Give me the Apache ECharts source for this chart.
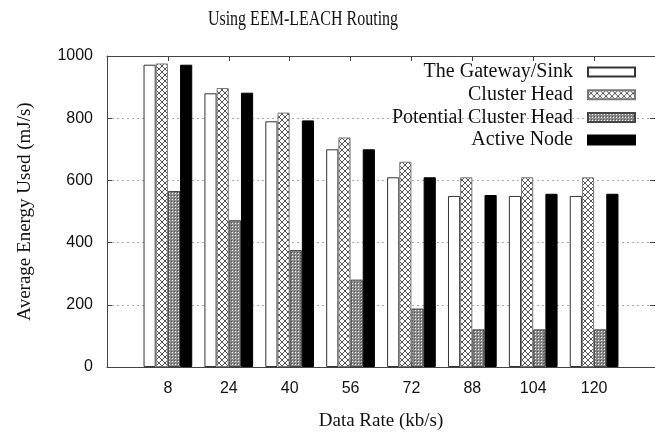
<!DOCTYPE html>
<html>
<head>
<meta charset="utf-8">
<script src="https://cdn.jsdelivr.net/npm/echarts@6/dist/echarts.min.js"></script>
<style>html,body{margin:0;padding:0;background:#fff}#c{width:655px;height:436px}</style>
</head>
<body>
<div id="c"></div>
<script>
const titleText = 'Using EEM-LEACH Routing';
const xName = 'Data Rate (kb/s)';
const yName = 'Average Energy Used (mJ/s)';
const rates = [8, 24, 40, 56, 72, 88, 104, 120];
const seriesNames = ['The Gateway/Sink', 'Cluster Head', 'Potential Cluster Head', 'Active Node'];
const gateway = [972, 880, 790, 700, 610, 550, 550, 550];
const clusterHead = [976, 897, 818, 738, 660, 610, 610, 610];
const potential = [566, 472, 376, 281, 188, 121, 121, 121];
const active = [972, 882, 793, 700, 610, 553, 557, 557];

function makeTile(size, draw) {
  const c = document.createElement('canvas');
  c.width = size; c.height = size;
  const g = c.getContext('2d');
  draw(g, size);
  return c;
}
const crossTile = makeTile(6, (g, s) => {
  g.fillStyle = '#ffffff'; g.fillRect(0, 0, s, s);
  g.fillStyle = '#555555';
  for (let i = 0; i < s; i++) { g.fillRect(i, i, 1, 1); g.fillRect(i, s - 1 - i, 1, 1); }
});
const denseTile = makeTile(3, (g, s) => {
  g.fillStyle = '#8c8c8c'; g.fillRect(0, 0, s, s);
  g.fillStyle = '#ffffff'; g.fillRect(1, 1, 1, 1);
  g.fillStyle = '#555555'; g.fillRect(0, 0, 1, 1);
});

const fills = [
  '#ffffff',
  { image: crossTile, repeat: 'repeat' },
  { image: denseTile, repeat: 'repeat' },
  '#000000'
];
const values = [gateway, clusterHead, potential, active];
const borders = ['#333333', '#777777', '#444444', '#000000'];

const serif = 'Liberation Serif';
const sans = 'Liberation Sans';

const chart = echarts.init(document.getElementById('c'), null, { renderer: 'canvas' });
chart.setOption({
  animation: false,
  backgroundColor: '#ffffff',
  graphic: [{
    type: 'text', x: 303, y: 20, scaleX: 0.8, scaleY: 1,
    style: {
      text: titleText, fontFamily: serif, fontSize: 20, fill: '#111',
      align: 'center', verticalAlign: 'middle'
    }
  }],
  legend: {
    orient: 'vertical', align: 'right', right: 14, top: 57,
    icon: 'rect', itemWidth: 47, itemHeight: 9, itemGap: 2.7,
    textStyle: { fontFamily: serif, fontSize: 20, color: '#111', lineHeight: 20, padding: [0, 10, 0, 0] },
    data: seriesNames
  },
  grid: { left: 107, top: 56, width: 552, height: 314, containLabel: false },
  xAxis: [{
    type: 'value', min: -8, max: 136, position: 'bottom',
    name: xName, nameLocation: 'middle', nameGap: 45,
    nameTextStyle: { fontFamily: serif, fontSize: 19, color: '#111' },
    axisLine: { show: true, onZero: false, lineStyle: { color: '#444', width: 1 } },
    axisTick: { show: true, inside: true, length: 5, customValues: rates, lineStyle: { color: '#444' } },
    axisLabel: { customValues: rates, margin: 14, fontFamily: sans, fontSize: 16, color: '#111', formatter: v => String(v) },
    splitLine: { show: false }
  }, {
    type: 'value', min: -8, max: 136, position: 'top',
    axisLine: { show: true, onZero: false, lineStyle: { color: '#444', width: 1 } },
    axisTick: { show: true, inside: true, length: 5, customValues: rates, lineStyle: { color: '#444' } },
    axisLabel: { show: false },
    splitLine: { show: false }
  }],
  yAxis: [{
    type: 'value', min: 0, max: 1000, interval: 200, position: 'left',
    name: yName, nameLocation: 'middle', nameGap: 72,
    nameTextStyle: { fontFamily: serif, fontSize: 19, color: '#111' },
    axisLine: { show: true, onZero: false, lineStyle: { color: '#444', width: 1 } },
    axisTick: { show: true, inside: true, length: 5, lineStyle: { color: '#444' } },
    axisLabel: { margin: 14, fontFamily: sans, fontSize: 16, color: '#111', formatter: v => String(v) },
    splitLine: { show: true, lineStyle: { color: '#aaaaaa', type: [2, 3], width: 1 } }
  }, {
    type: 'value', min: 0, max: 1000, interval: 200, position: 'right',
    axisLine: { show: true, onZero: false, lineStyle: { color: '#444', width: 1 } },
    axisTick: { show: true, inside: true, length: 5, lineStyle: { color: '#444' } },
    axisLabel: { show: false },
    splitLine: { show: false }
  }],
  series: seriesNames.map((name, k) => ({
    name: name,
    type: 'bar',
    xAxisIndex: 0, yAxisIndex: 0,
    barGap: '0%', barCategoryGap: '20%',
    itemStyle: { color: fills[k], borderColor: borders[k], borderWidth: 1 },
    data: rates.map((r, i) => [r, values[k][i]])
  }))
});
</script>
</body>
</html>
